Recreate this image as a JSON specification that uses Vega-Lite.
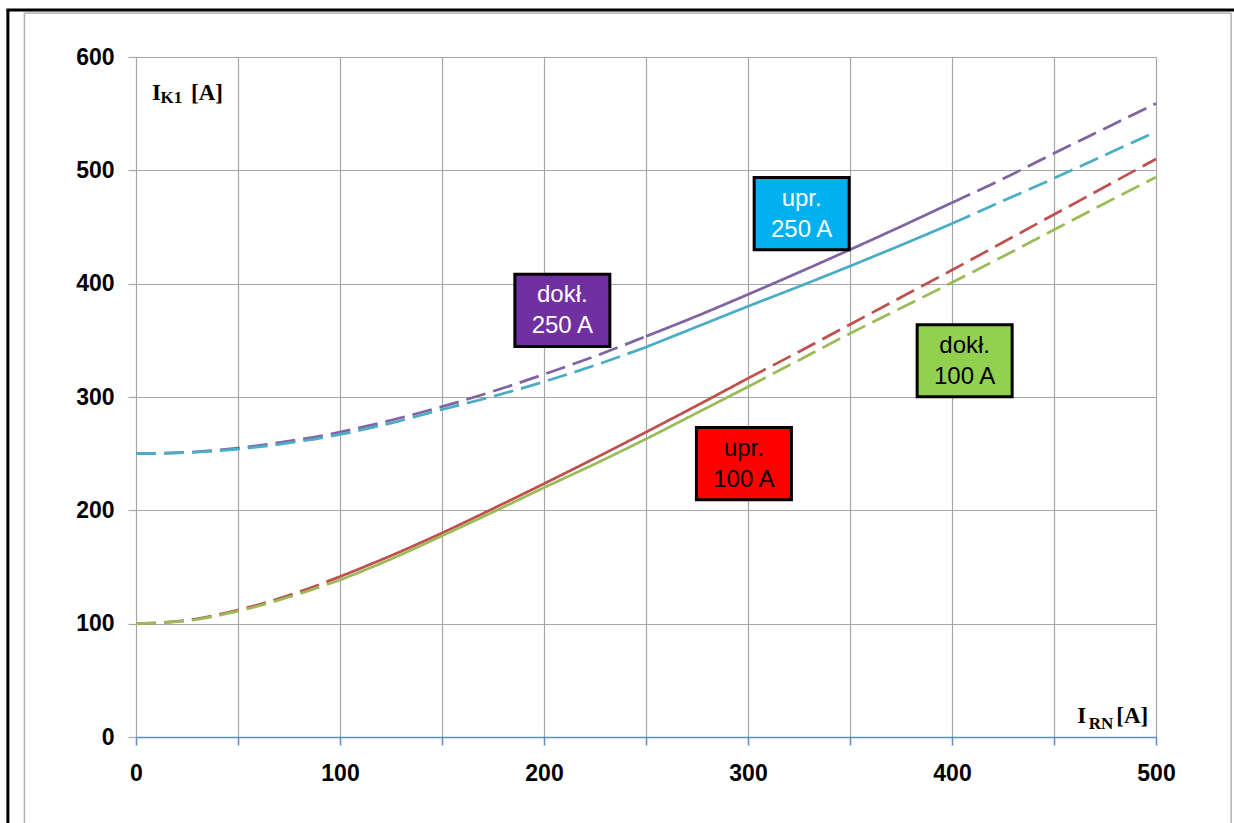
{
  "$schema": "https://vega.github.io/schema/vega-lite/v6.json",
  "autosize": "none",
  "width": 1020,
  "height": 680,
  "padding": {"left": 136, "top": 57, "right": 78, "bottom": 86},
  "background": "white",
  "config": {"view": {"stroke": null}},
  "datasets": {
    "curves": [
      {"s": "dokł. 250 A", "seg": "p1", "line": "dashed", "x": 0, "y": 250},
      {"s": "dokł. 250 A", "seg": "p1", "line": "dashed", "x": 25, "y": 251.2},
      {"s": "dokł. 250 A", "seg": "p1", "line": "dashed", "x": 50, "y": 255},
      {"s": "dokł. 250 A", "seg": "p1", "line": "dashed", "x": 75, "y": 261},
      {"s": "dokł. 250 A", "seg": "p1", "line": "dashed", "x": 100, "y": 269},
      {"s": "dokł. 250 A", "seg": "p1", "line": "dashed", "x": 125, "y": 279.5},
      {"s": "dokł. 250 A", "seg": "p1", "line": "dashed", "x": 150, "y": 291.5},
      {"s": "dokł. 250 A", "seg": "p1", "line": "dashed", "x": 175, "y": 305},
      {"s": "dokł. 250 A", "seg": "p1", "line": "dashed", "x": 200, "y": 320},
      {"s": "dokł. 250 A", "seg": "p1", "line": "dashed", "x": 225, "y": 336},
      {"s": "dokł. 250 A", "seg": "p1", "line": "dashed", "x": 250, "y": 353.5},
      {"s": "dokł. 250 A", "seg": "p2", "line": "solid", "x": 250, "y": 353.5},
      {"s": "dokł. 250 A", "seg": "p2", "line": "solid", "x": 275, "y": 371.5},
      {"s": "dokł. 250 A", "seg": "p2", "line": "solid", "x": 300, "y": 390.5},
      {"s": "dokł. 250 A", "seg": "p2", "line": "solid", "x": 325, "y": 410},
      {"s": "dokł. 250 A", "seg": "p2", "line": "solid", "x": 350, "y": 430},
      {"s": "dokł. 250 A", "seg": "p2", "line": "solid", "x": 375, "y": 450.5},
      {"s": "dokł. 250 A", "seg": "p2", "line": "solid", "x": 400, "y": 471.5},
      {"s": "dokł. 250 A", "seg": "p3", "line": "dashed", "x": 400, "y": 471.5},
      {"s": "dokł. 250 A", "seg": "p3", "line": "dashed", "x": 425, "y": 492.5},
      {"s": "dokł. 250 A", "seg": "p3", "line": "dashed", "x": 450, "y": 515},
      {"s": "dokł. 250 A", "seg": "p3", "line": "dashed", "x": 475, "y": 537},
      {"s": "dokł. 250 A", "seg": "p3", "line": "dashed", "x": 500, "y": 559},

      {"s": "upr. 250 A", "seg": "c1", "line": "dashed", "x": 0, "y": 250},
      {"s": "upr. 250 A", "seg": "c1", "line": "dashed", "x": 25, "y": 251},
      {"s": "upr. 250 A", "seg": "c1", "line": "dashed", "x": 50, "y": 254},
      {"s": "upr. 250 A", "seg": "c1", "line": "dashed", "x": 75, "y": 259.5},
      {"s": "upr. 250 A", "seg": "c1", "line": "dashed", "x": 100, "y": 267},
      {"s": "upr. 250 A", "seg": "c1", "line": "dashed", "x": 125, "y": 277},
      {"s": "upr. 250 A", "seg": "c1", "line": "dashed", "x": 150, "y": 289},
      {"s": "upr. 250 A", "seg": "c1", "line": "dashed", "x": 175, "y": 300.5},
      {"s": "upr. 250 A", "seg": "c1", "line": "dashed", "x": 200, "y": 313.5},
      {"s": "upr. 250 A", "seg": "c1", "line": "dashed", "x": 225, "y": 328},
      {"s": "upr. 250 A", "seg": "c1", "line": "dashed", "x": 250, "y": 344},
      {"s": "upr. 250 A", "seg": "c2", "line": "solid", "x": 250, "y": 344},
      {"s": "upr. 250 A", "seg": "c2", "line": "solid", "x": 275, "y": 362},
      {"s": "upr. 250 A", "seg": "c2", "line": "solid", "x": 300, "y": 380},
      {"s": "upr. 250 A", "seg": "c2", "line": "solid", "x": 325, "y": 397.5},
      {"s": "upr. 250 A", "seg": "c2", "line": "solid", "x": 350, "y": 415.5},
      {"s": "upr. 250 A", "seg": "c2", "line": "solid", "x": 375, "y": 434},
      {"s": "upr. 250 A", "seg": "c2", "line": "solid", "x": 400, "y": 453},
      {"s": "upr. 250 A", "seg": "c3", "line": "dashed", "x": 400, "y": 453},
      {"s": "upr. 250 A", "seg": "c3", "line": "dashed", "x": 425, "y": 473},
      {"s": "upr. 250 A", "seg": "c3", "line": "dashed", "x": 450, "y": 493},
      {"s": "upr. 250 A", "seg": "c3", "line": "dashed", "x": 475, "y": 513.5},
      {"s": "upr. 250 A", "seg": "c3", "line": "dashed", "x": 500, "y": 534},

      {"s": "upr. 100 A", "seg": "r1", "line": "dashed", "x": 0, "y": 100},
      {"s": "upr. 100 A", "seg": "r1", "line": "dashed", "x": 25, "y": 103},
      {"s": "upr. 100 A", "seg": "r1", "line": "dashed", "x": 50, "y": 112},
      {"s": "upr. 100 A", "seg": "r1", "line": "dashed", "x": 75, "y": 125},
      {"s": "upr. 100 A", "seg": "r1", "line": "dashed", "x": 100, "y": 141.5},
      {"s": "upr. 100 A", "seg": "r2", "line": "solid", "x": 100, "y": 141.5},
      {"s": "upr. 100 A", "seg": "r2", "line": "solid", "x": 125, "y": 160},
      {"s": "upr. 100 A", "seg": "r2", "line": "solid", "x": 150, "y": 180},
      {"s": "upr. 100 A", "seg": "r2", "line": "solid", "x": 175, "y": 201.5},
      {"s": "upr. 100 A", "seg": "r2", "line": "solid", "x": 200, "y": 223.5},
      {"s": "upr. 100 A", "seg": "r2", "line": "solid", "x": 225, "y": 246},
      {"s": "upr. 100 A", "seg": "r2", "line": "solid", "x": 250, "y": 269},
      {"s": "upr. 100 A", "seg": "r2", "line": "solid", "x": 275, "y": 292.5},
      {"s": "upr. 100 A", "seg": "r2", "line": "solid", "x": 300, "y": 316.5},
      {"s": "upr. 100 A", "seg": "r3", "line": "dashed", "x": 300, "y": 316.5},
      {"s": "upr. 100 A", "seg": "r3", "line": "dashed", "x": 325, "y": 340},
      {"s": "upr. 100 A", "seg": "r3", "line": "dashed", "x": 350, "y": 364},
      {"s": "upr. 100 A", "seg": "r3", "line": "dashed", "x": 375, "y": 388},
      {"s": "upr. 100 A", "seg": "r3", "line": "dashed", "x": 400, "y": 412},
      {"s": "upr. 100 A", "seg": "r3", "line": "dashed", "x": 425, "y": 436.5},
      {"s": "upr. 100 A", "seg": "r3", "line": "dashed", "x": 450, "y": 461},
      {"s": "upr. 100 A", "seg": "r3", "line": "dashed", "x": 475, "y": 485.5},
      {"s": "upr. 100 A", "seg": "r3", "line": "dashed", "x": 500, "y": 510},

      {"s": "dokł. 100 A", "seg": "g1", "line": "dashed", "x": 0, "y": 100},
      {"s": "dokł. 100 A", "seg": "g1", "line": "dashed", "x": 25, "y": 102.5},
      {"s": "dokł. 100 A", "seg": "g1", "line": "dashed", "x": 50, "y": 111},
      {"s": "dokł. 100 A", "seg": "g1", "line": "dashed", "x": 75, "y": 123.5},
      {"s": "dokł. 100 A", "seg": "g1", "line": "dashed", "x": 100, "y": 138.5},
      {"s": "dokł. 100 A", "seg": "g2", "line": "solid", "x": 100, "y": 138.5},
      {"s": "dokł. 100 A", "seg": "g2", "line": "solid", "x": 125, "y": 157},
      {"s": "dokł. 100 A", "seg": "g2", "line": "solid", "x": 150, "y": 177.5},
      {"s": "dokł. 100 A", "seg": "g2", "line": "solid", "x": 175, "y": 198.5},
      {"s": "dokł. 100 A", "seg": "g2", "line": "solid", "x": 200, "y": 220},
      {"s": "dokł. 100 A", "seg": "g2", "line": "solid", "x": 225, "y": 241},
      {"s": "dokł. 100 A", "seg": "g2", "line": "solid", "x": 250, "y": 263},
      {"s": "dokł. 100 A", "seg": "g2", "line": "solid", "x": 275, "y": 286},
      {"s": "dokł. 100 A", "seg": "g2", "line": "solid", "x": 300, "y": 309},
      {"s": "dokł. 100 A", "seg": "g3", "line": "dashed", "x": 300, "y": 309},
      {"s": "dokł. 100 A", "seg": "g3", "line": "dashed", "x": 325, "y": 332.5},
      {"s": "dokł. 100 A", "seg": "g3", "line": "dashed", "x": 350, "y": 356},
      {"s": "dokł. 100 A", "seg": "g3", "line": "dashed", "x": 375, "y": 378.5},
      {"s": "dokł. 100 A", "seg": "g3", "line": "dashed", "x": 400, "y": 401},
      {"s": "dokł. 100 A", "seg": "g3", "line": "dashed", "x": 425, "y": 424},
      {"s": "dokł. 100 A", "seg": "g3", "line": "dashed", "x": 450, "y": 447.5},
      {"s": "dokł. 100 A", "seg": "g3", "line": "dashed", "x": 475, "y": 471},
      {"s": "dokł. 100 A", "seg": "g3", "line": "dashed", "x": 500, "y": 494}
    ],
    "boxes": [
      {"s": "dokł. 250 A", "txt": "dokł.\n250 A", "x": 209, "y": 376.5},
      {"s": "upr. 250 A", "txt": "upr.\n250 A", "x": 326.3, "y": 461.8},
      {"s": "upr. 100 A", "txt": "upr.\n100 A", "x": 298, "y": 241.3},
      {"s": "dokł. 100 A", "txt": "dokł.\n100 A", "x": 406.2, "y": 332}
    ],
    "one": [{}]
  },
  "resolve": {"scale": {"color": "independent", "fill": "independent"}},
  "layer": [
    {
      "data": {"name": "curves"},
      "mark": {"type": "line", "interpolate": "monotone", "strokeWidth": 2.75, "clip": false},
      "encoding": {
        "x": {
          "field": "x", "type": "quantitative",
          "scale": {"domain": [0, 500], "nice": false, "zero": false},
          "axis": {
            "title": null,
            "values": [0, 50, 100, 150, 200, 250, 300, 350, 400, 450, 500],
            "labelExpr": "datum.value % 100 === 0 ? datum.label : ''",
            "grid": true, "gridColor": "#a6a6a6", "gridWidth": 1.2, "gridOpacity": 1,
            "domain": true, "domainColor": "#5b8bd0", "domainWidth": 1.5,
            "ticks": true, "tickColor": "#5b8bd0", "tickSize": 8, "tickWidth": 1.5,
            "labelFont": "Liberation Sans", "labelFontWeight": "bold", "labelFontSize": 23,
            "labelColor": "#000000", "labelPadding": 17, "labelFlush": false, "labelOverlap": false
          }
        },
        "y": {
          "field": "y", "type": "quantitative",
          "scale": {"domain": [0, 600], "nice": false, "zero": false},
          "axis": {
            "title": null,
            "values": [0, 100, 200, 300, 400, 500, 600],
            "grid": true, "gridColor": "#a6a6a6", "gridWidth": 1.2, "gridOpacity": 1,
            "domain": false,
            "ticks": true, "tickColor": "#a6a6a6", "tickSize": 8, "tickWidth": 1.2,
            "labelFont": "Liberation Sans", "labelFontWeight": "bold", "labelFontSize": 23,
            "labelColor": "#000000", "labelPadding": 14, "labelFlush": false, "labelOverlap": false
          }
        },
        "color": {
          "field": "s", "type": "nominal", "legend": null,
          "scale": {"domain": ["dokł. 250 A", "upr. 250 A", "upr. 100 A", "dokł. 100 A"],
                    "range": ["#8064A2", "#4BACC6", "#C0504D", "#9BBB59"]}
        },
        "strokeDash": {
          "field": "line", "type": "nominal", "legend": null,
          "scale": {"domain": ["dashed", "solid"], "range": [[20, 8], [1, 0]]}
        },
        "detail": {"field": "seg"}
      }
    },
    {
      "data": {"name": "boxes"},
      "mark": {"type": "point", "shape": "M-1,-0.76H1V0.76H-1Z", "size": 9025, "filled": true, "opacity": 1, "stroke": "#000000", "strokeWidth": 3},
      "encoding": {
        "x": {"field": "x", "type": "quantitative"},
        "y": {"field": "y", "type": "quantitative"},
        "fill": {
          "field": "s", "type": "nominal", "legend": null,
          "scale": {"domain": ["dokł. 250 A", "upr. 250 A", "upr. 100 A", "dokł. 100 A"],
                    "range": ["#7030A0", "#00B0F0", "#FF0000", "#92D050"]}
        }
      }
    },
    {
      "data": {"name": "boxes"},
      "layer": [
        {
          "mark": {"type": "text", "lineBreak": "\n", "lineHeight": 31, "font": "Liberation Sans", "fontSize": 24, "align": "center", "baseline": "middle", "dy": -15, "opacity": 1},
          "encoding": {
            "x": {"field": "x", "type": "quantitative"},
            "y": {"field": "y", "type": "quantitative"},
            "text": {"field": "txt"},
            "color": {
              "field": "s", "type": "nominal", "legend": null,
              "scale": {"domain": ["dokł. 250 A", "upr. 250 A", "upr. 100 A", "dokł. 100 A"],
                        "range": ["#ffffff", "#ffffff", "#000000", "#000000"]}
            }
          }
        }
      ]
    },
    {
      "data": {"name": "one"},
      "layer": [
        {
          "mark": {"type": "text", "font": "Liberation Serif", "fontWeight": "bold", "fontSize": 23, "align": "left", "baseline": "alphabetic"},
          "encoding": {"x": {"datum": 7.8}, "y": {"datum": 562}, "text": {"value": "I"}}
        },
        {
          "mark": {"type": "text", "font": "Liberation Serif", "fontWeight": "bold", "fontSize": 17, "align": "left", "baseline": "alphabetic"},
          "encoding": {"x": {"datum": 12.0}, "y": {"datum": 559}, "text": {"value": "K1"}}
        },
        {
          "mark": {"type": "text", "font": "Liberation Serif", "fontWeight": "bold", "fontSize": 23, "align": "left", "baseline": "alphabetic"},
          "encoding": {"x": {"datum": 27.0}, "y": {"datum": 562}, "text": {"value": "[A]"}}
        },
        {
          "mark": {"type": "text", "font": "Liberation Serif", "fontWeight": "bold", "fontSize": 23, "align": "left", "baseline": "alphabetic"},
          "encoding": {"x": {"datum": 461.4}, "y": {"datum": 12.4}, "text": {"value": "I"}}
        },
        {
          "mark": {"type": "text", "font": "Liberation Serif", "fontWeight": "bold", "fontSize": 17, "align": "left", "baseline": "alphabetic"},
          "encoding": {"x": {"datum": 467.0}, "y": {"datum": 7.1}, "text": {"value": "RN"}}
        },
        {
          "mark": {"type": "text", "font": "Liberation Serif", "fontWeight": "bold", "fontSize": 23, "align": "left", "baseline": "alphabetic"},
          "encoding": {"x": {"datum": 480.5}, "y": {"datum": 12.4}, "text": {"value": "[A]"}}
        },
        {
          "mark": {"type": "rule", "color": "#000000", "strokeWidth": 3, "clip": false},
          "encoding": {"x": {"datum": -62.8}, "y": {"datum": 642}, "y2": {"datum": -100}}
        },
        {
          "mark": {"type": "rule", "color": "#000000", "strokeWidth": 3, "clip": false},
          "encoding": {"x": {"datum": -63.5}, "x2": {"datum": 600}, "y": {"datum": 641.5}}
        },
        {
          "mark": {"type": "rule", "color": "#b0b0b0", "strokeWidth": 1.5, "clip": false},
          "encoding": {"x": {"datum": -54.7}, "y": {"datum": 638.8}, "y2": {"datum": -100}}
        },
        {
          "mark": {"type": "rule", "color": "#b0b0b0", "strokeWidth": 1.5, "clip": false},
          "encoding": {"x": {"datum": -54.7}, "x2": {"datum": 536.8}, "y": {"datum": 638.8}}
        },
        {
          "mark": {"type": "rule", "color": "#b0b0b0", "strokeWidth": 1.5, "clip": false},
          "encoding": {"x": {"datum": 536.8}, "y": {"datum": 638.8}, "y2": {"datum": -100}}
        }
      ]
    }
  ]
}
